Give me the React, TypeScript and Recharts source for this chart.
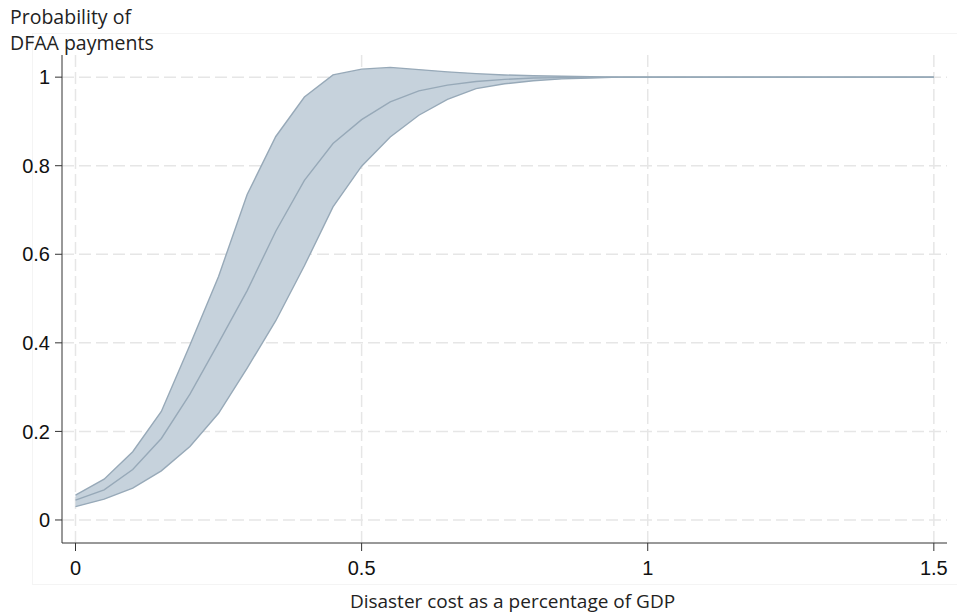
import React from 'react';
import { ComposedChart, Area, Line, XAxis, YAxis, CartesianGrid } from 'recharts';

const xValues = [0, 0.05, 0.1, 0.15, 0.2, 0.25, 0.3, 0.35, 0.4, 0.45, 0.5, 0.55, 0.6, 0.65, 0.7, 0.75, 0.8, 0.85, 0.9, 0.95, 1, 1.05, 1.1, 1.15, 1.2, 1.25, 1.3, 1.35, 1.4, 1.45, 1.5];
const upper = [0.056, 0.092, 0.154, 0.245, 0.395, 0.55, 0.735, 0.866, 0.955, 1.005, 1.018, 1.022, 1.017, 1.012, 1.008, 1.005, 1.003, 1.002, 1.001, 1, 1, 1, 1, 1, 1, 1, 1, 1, 1, 1, 1];
const mid = [0.045, 0.068, 0.114, 0.184, 0.284, 0.4, 0.518, 0.652, 0.767, 0.85, 0.904, 0.944, 0.969, 0.982, 0.99, 0.995, 0.998, 0.999, 1, 1, 1, 1, 1, 1, 1, 1, 1, 1, 1, 1, 1];
const lower = [0.03, 0.047, 0.072, 0.111, 0.166, 0.241, 0.343, 0.45, 0.574, 0.707, 0.799, 0.865, 0.914, 0.95, 0.974, 0.985, 0.992, 0.996, 0.998, 1, 1, 1, 1, 1, 1, 1, 1, 1, 1, 1, 1];
const xTicks = [0, 0.5, 1, 1.5];
const yTicks = [0, 0.2, 0.4, 0.6, 0.8, 1];

const data = xValues.map((x, i) => ({ x, band: [lower[i], upper[i]], mid: mid[i] }));

const fmt = (v: number) => String(v);
const tickFont = { fill: '#111', fontSize: 20, fontFamily: 'Liberation Sans, Arial, sans-serif' };
const textFont = 'Open Sans, sans-serif';

export default function App() {
  return (
    <div style={{ position: 'fixed', left: 0, top: 0, width: 957, height: 613, background: '#fff', overflow: 'hidden' }}>
      <div style={{ position: 'absolute', left: 32, top: 33, width: 930, height: 550, border: '1px solid #f4f4f4' }} />
      <div style={{ position: 'absolute', left: 10, top: 4, fontFamily: textFont, fontSize: 19.5, lineHeight: '26px', color: '#222', zIndex: 2 }}>
        Probability of<br />DFAA payments
      </div>
      <div style={{ position: 'absolute', left: 0, width: 957, top: 590, textAlign: 'center', paddingLeft: 68, boxSizing: 'border-box', fontFamily: textFont, fontSize: 19, lineHeight: '22px', color: '#222', zIndex: 2, whiteSpace: 'nowrap' }}>
        Disaster cost as a percentage of GDP
      </div>
      <ComposedChart width={957} height={613} data={data} margin={{ top: 55, right: 10, bottom: 40, left: 12 }} style={{ position: 'absolute', left: 0, top: 0 }}>
        <CartesianGrid stroke="#e6e6e6" strokeDasharray="12 5" strokeWidth={1.5} verticalValues={xTicks} horizontalValues={yTicks} />
        <XAxis dataKey="x" type="number" domain={[-0.0236, 1.523]} ticks={xTicks} tickFormatter={fmt} height={30}
          stroke="#333" tick={tickFont} tickLine={{ stroke: '#333' }} tickSize={8} tickMargin={10} allowDataOverflow />
        <YAxis type="number" domain={[-0.052, 1.05]} ticks={yTicks} tickFormatter={fmt} width={50}
          stroke="#333" tick={tickFont} tickLine={{ stroke: '#333' }} tickSize={7} tickMargin={5} allowDataOverflow />
        <Area dataKey="band" type="linear" fill="#c6d2dc" fillOpacity={1} stroke="#97a9b8" strokeWidth={1.4} isAnimationActive={false} />
        <Line dataKey="mid" type="linear" stroke="#97a9b8" strokeWidth={1.4} dot={false} isAnimationActive={false} />
      </ComposedChart>
    </div>
  );
}
